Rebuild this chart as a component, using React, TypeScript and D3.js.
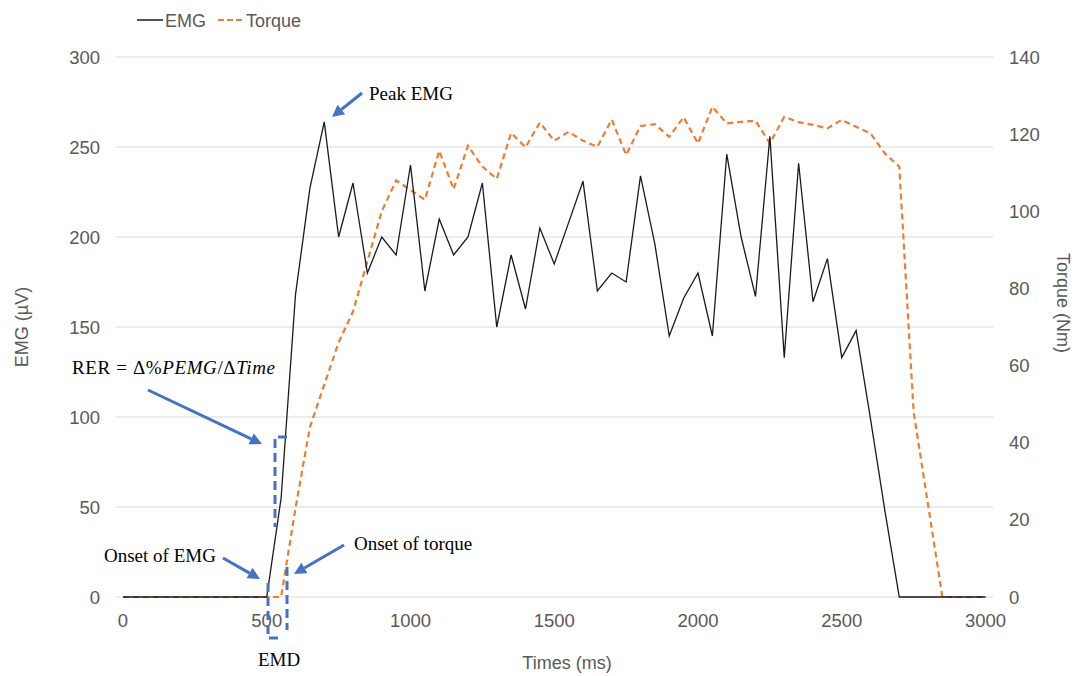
import React from "react";
import * as d3 from "d3";

const times = [0, 50, 100, 150, 200, 250, 300, 350, 400, 450, 500, 550, 600, 650, 700, 750, 800, 850, 900, 950, 1000, 1050, 1100, 1150, 1200, 1250, 1300, 1350, 1400, 1450, 1500, 1550, 1600, 1650, 1700, 1750, 1800, 1850, 1900, 1950, 2000, 2050, 2100, 2150, 2200, 2250, 2300, 2350, 2400, 2450, 2500, 2550, 2600, 2650, 2700, 2750, 2800, 2850, 2900, 2950, 3000];

const emg = [0, 0, 0, 0, 0, 0, 0, 0, 0, 0, 0, 55, 168, 227, 264, 200, 230, 180, 200, 190, 240, 170, 210, 190, 200, 230, 150, 190, 160, 205, 185, 208, 231, 170, 180, 175, 234, 196, 145, 166, 180, 145, 246, 200, 167, 256, 133, 241, 164, 188, 133, 148, 99, 48, 0, 0, 0, 0, 0, 0, 0];

const torque = [0, 0, 0, 0, 0, 0, 0, 0, 0, 0, 0, 0, 23, 44, 55, 66, 74, 87, 100, 108, 105.5, 103, 115.7, 105.7, 117, 111.6, 108.4, 120.3, 116.6, 123, 118.3, 120.6, 118.3, 116.7, 123.8, 114.6, 122.1, 122.6, 119.3, 124.4, 117.6, 127.1, 122.8, 123.2, 123.5, 117.6, 124.5, 123.1, 122.4, 121.5, 123.7, 121.9, 120.2, 115, 111.6, 48, 24, 0, 0, 0, 0];

const xTicks = [0, 500, 1000, 1500, 2000, 2500, 3000];
const leftTicks = [0, 50, 100, 150, 200, 250, 300];
const rightTicks = [0, 20, 40, 60, 80, 100, 120, 140];

const W = 1078;
const H = 676;
const x = d3.scaleLinear().domain([0, 3000]).range([123, 985.5]);
const yL = d3.scaleLinear().domain([0, 300]).range([597, 57]);
const yR = d3.scaleLinear().domain([0, 140]).range([597, 57]);

const BLUE = "#4472C4";
const GREY = "#595959";
const SANS = "'Liberation Sans', Arial, Helvetica, sans-serif";
const SERIF = "'Liberation Serif', 'Times New Roman', serif";

function Arrow({ x1, y1, x2, y2 }: { x1: number; y1: number; x2: number; y2: number }) {
  const ang = Math.atan2(y2 - y1, x2 - x1);
  const L = 12;
  const Wd = 6;
  const bx = x2 - L * Math.cos(ang);
  const by = y2 - L * Math.sin(ang);
  const px = -Math.sin(ang) * Wd;
  const py = Math.cos(ang) * Wd;
  return (
    <g>
      <line x1={x1} y1={y1} x2={bx} y2={by} stroke={BLUE} strokeWidth={3} />
      <path d={`M${x2},${y2} L${bx + px},${by + py} L${bx - px},${by - py} Z`} fill={BLUE} />
    </g>
  );
}

export default function App() {
  const emgLine = d3
    .line<number>()
    .x((_, i) => x(times[i]))
    .y((d) => yL(d));
  const torqueLine = d3
    .line<number>()
    .x((_, i) => x(times[i]))
    .y((d) => yR(d));

  return (
    <svg
      width={W}
      height={H}
      style={{ position: "absolute", left: 0, top: 0, background: "#fff" }}
    >
      <rect width={W} height={H} fill="#fff" />
      {leftTicks.map((t) => (
        <line key={t} x1={116} x2={993} y1={yL(t)} y2={yL(t)} stroke="#d9d9d9" strokeWidth={1} />
      ))}
      {leftTicks.map((t) => (
        <text key={t} x={100} y={yL(t) + 6.5} textAnchor="end" fontFamily={SANS} fontSize={18.5} fill={GREY}>
          {t}
        </text>
      ))}
      {rightTicks.map((t) => (
        <text key={t} x={1009} y={yR(t) + 6.5} textAnchor="start" fontFamily={SANS} fontSize={18.5} fill={GREY}>
          {t}
        </text>
      ))}
      {xTicks.map((t) => (
        <text key={t} x={x(t)} y={627} textAnchor="middle" fontFamily={SANS} fontSize={18.5} fill={GREY}>
          {t}
        </text>
      ))}
      <text x={567} y={669} textAnchor="middle" fontFamily={SANS} fontSize={18} fill={GREY}>
        Times (ms)
      </text>
      <text
        transform="translate(28,327) rotate(-90)"
        textAnchor="middle"
        fontFamily={SANS}
        fontSize={18}
        fill={GREY}
      >
        EMG (µV)
      </text>
      <text
        transform="translate(1057,303) rotate(90)"
        textAnchor="middle"
        fontFamily={SANS}
        fontSize={18}
        fill={GREY}
      >
        Torque (Nm)
      </text>

      <path d={torqueLine(torque) || ""} fill="none" stroke="#ED7D31" strokeWidth={2.2} strokeDasharray="6 4" />
      <path d={emgLine(emg) || ""} fill="none" stroke="#1a1a1a" strokeWidth={1.3} strokeLinejoin="miter" />

      <line x1={137} x2={163} y1={20} y2={20} stroke="#1a1a1a" strokeWidth={1.5} />
      <text x={165} y={26.5} fontFamily={SANS} fontSize={18} fill={GREY}>
        EMG
      </text>
      <line x1={218} x2={242} y1={20} y2={20} stroke="#ED7D31" strokeWidth={2.2} strokeDasharray="6 3" />
      <text x={246} y={26.5} fontFamily={SANS} fontSize={18} fill={GREY}>
        Torque
      </text>

      <text x={369} y={100} fontFamily={SERIF} fontSize={19} fill="#000">
        Peak EMG
      </text>
      <Arrow x1={362} y1={93} x2={332} y2={117} />

      <text x={72} y={374} fontFamily={SERIF} fontSize={19} fill="#000" textLength={203} lengthAdjust="spacing">
        <tspan>RER = Δ%</tspan>
        <tspan fontStyle="italic">PEMG</tspan>
        <tspan>/Δ</tspan>
        <tspan fontStyle="italic">Time</tspan>
      </text>
      <Arrow x1={148} y1={390} x2={262} y2={444} />
      <path d="M287,437 H275 V527" fill="none" stroke={BLUE} strokeWidth={3} strokeDasharray="9 5" />

      <text x={104} y={562} fontFamily={SERIF} fontSize={19} fill="#000">
        Onset of EMG
      </text>
      <Arrow x1={223} y1={558} x2={260} y2={579} />

      <text x={354} y={550} fontFamily={SERIF} fontSize={19} fill="#000">
        Onset of torque
      </text>
      <Arrow x1={344} y1={545} x2={294} y2={574} />

      <path d="M268,583 V638 H282" fill="none" stroke={BLUE} strokeWidth={3} strokeDasharray="9 5" />
      <path d="M287,567 V630" fill="none" stroke={BLUE} strokeWidth={3} strokeDasharray="9 5" />

      <text x={258} y={666} fontFamily={SERIF} fontSize={19} fill="#000">
        EMD
      </text>
    </svg>
  );
}
